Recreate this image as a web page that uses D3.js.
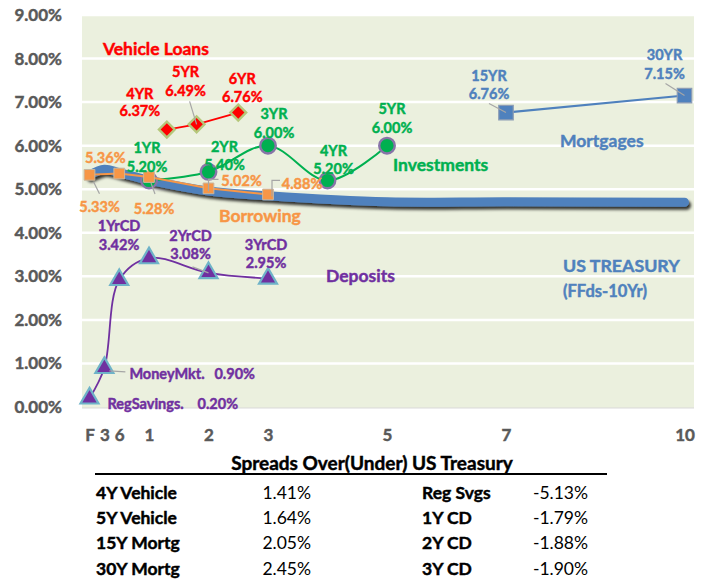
<!DOCTYPE html>
<html>
<head>
<meta charset="utf-8">
<script src="https://cdn.jsdelivr.net/npm/d3@7"></script>
<style>
  body { margin: 0; background: #fff; }
  svg { display: block; font-family: Lato, "Open Sans", sans-serif; }
  /* thicken bold text a touch, Calibri bold reads heavier than Lato */
  .heavy text, text.heavy { stroke: currentColor; stroke-width: 0.45px; paint-order: stroke; }
</style>
</head>
<body>
<svg id="chart" width="704" height="579"></svg>
<script>
// Yield curve snapshot: tenors are in years (F = Fed Funds, 3 and 6 = months)

const treasuryTenors = [0, 0.25, 0.5, 1, 2, 3, 5, 7, 10]
const treasuryRates = [5.33, 5.46, 5.38, 5.21, 4.96, 4.85, 4.71, 4.71, 4.70]

const vehicleTenors = [1.3, 1.8, 2.5]
const vehicleRates = [6.37, 6.49, 6.76]
const vehicleNames = ['4YR', '5YR', '6YR']

const investTenors = [1, 2, 3, 4, 5]
const investRates = [5.20, 5.40, 6.00, 5.20, 6.00]
const investNames = ['1YR', '2YR', '3YR', '4YR', '5YR']

const borrowTenors = [0, 0.5, 1, 2, 3]
const borrowRates = [5.33, 5.36, 5.28, 5.02, 4.88]

const mortgageTenors = [7, 10]
const mortgageRates = [6.76, 7.15]
const mortgageNames = ['15YR', '30YR']

const depositTenors = [0, 0.25, 0.5, 1, 2, 3]
const depositRates = [0.20, 0.90, 2.92, 3.42, 3.08, 2.95]
const depositNames = ['RegSavings.', 'MoneyMkt.', '', '1YrCD', '2YrCD', '3YrCD']

const xTickValues = [0, 0.25, 0.5, 1, 2, 3, 5, 7, 10]
const xTickLabels = ['F', '3', '6', '1', '2', '3', '5', '7', '10']
const yTickValues = [0, 1, 2, 3, 4, 5, 6, 7, 8, 9]

const spreadTitle = 'Spreads Over(Under) US Treasury'
const spreadLeftNames = ['4Y Vehicle', '5Y Vehicle', '15Y Mortg', '30Y Mortg']
const spreadLeftValues = [1.41, 1.64, 2.05, 2.45]
const spreadRightNames = ['Reg Svgs', '1Y CD', '2Y CD', '3Y CD']
const spreadRightValues = [-5.13, -1.79, -1.88, -1.90]

// Colours (Office palette)
const RED = '#ff0000', GREEN = '#00b050', ORANGE = '#f79646'
const BLUE = '#4f81bd', PURPLE = '#7030a0', GREY = '#595959'

// Label placement, offsets from each point [dx, dy of first line, dy of second line]
const vehicleLabelPos = [[-27, -36, -19], [-11, -53, -34], [4, -34, -16]]
const investLabelPos = [[-2, -33, -14], [16, -25, -7], [6, -32, -13], [6, -30, -12], [5, -37, -18]]
const borrowLabelPos = [[10, 32], [-14, -16], [5, 31], [33, -8], [34, -11]]
const mortgageLabelPos = [[-17, -37, -19], [-20, -41, -22]]
const depositLabelPos = [[18, 5], [25, 6], null, [-30, -33, -14], [-18, -37, -19], [-2, -34, -16]]

const LABEL_SIZE = 14.5, TITLE_SIZE = 17.5

const svg = d3.select('#chart')
const plot = { left: 82, right: 694, top: 16, bottom: 408 }

const x = d3.scaleLinear().domain([0, 10]).range([89.5, 684.5])
const y = d3.scaleLinear().domain([0, 9]).range([407, 15])
const pct = v => v.toFixed(2) + '%'

// Soft drop shadow for the thick treasury line
const defs = svg.append('defs')
defs.append('filter').attr('id', 'shadow')
  .attr('x', '-5%').attr('y', '-50%').attr('width', '110%').attr('height', '200%')
  .append('feDropShadow')
  .attr('dx', 2).attr('dy', 3).attr('stdDeviation', 1.6)
  .attr('flood-color', '#000').attr('flood-opacity', 0.8)

// Plot background and gridlines
svg.append('rect')
  .attr('x', plot.left).attr('y', plot.top)
  .attr('width', plot.right - plot.left).attr('height', plot.bottom - plot.top)
  .attr('fill', '#ebf0de')

svg.append('g').selectAll('line')
  .data(yTickValues.filter(d => d > 0))
  .join('line')
  .attr('x1', plot.left).attr('x2', plot.right)
  .attr('y1', d => y(d)).attr('y2', d => y(d))
  .attr('stroke', '#fff').attr('stroke-width', 2.5)

svg.append('line')
  .attr('x1', plot.left).attr('x2', plot.right)
  .attr('y1', plot.bottom).attr('y2', plot.bottom)
  .attr('stroke', '#d9d9d9').attr('stroke-width', 1)

// Axes
const yAxis = svg.append('g')
  .attr('transform', `translate(${plot.left - 16},0)`)
  .call(d3.axisLeft(y).tickValues(yTickValues).tickFormat(pct).tickSize(0).tickPadding(4))
const xAxis = svg.append('g')
  .attr('transform', `translate(0,${plot.bottom + 13})`)
  .call(d3.axisBottom(x).tickValues(xTickValues).tickFormat((d, i) => xTickLabels[i]).tickSize(0).tickPadding(8))

;[yAxis, xAxis].forEach(ax => {
  ax.select('.domain').remove()
  ax.classed('heavy', true).attr('color', GREY)
  ax.selectAll('text')
    .attr('fill', GREY).attr('font-size', 17).attr('font-weight', 'bold')
    .attr('font-family', 'Lato, sans-serif')
})

// Helpers --------------------------------------------------------------

const makeLine = (tenors, rates, curve) => d3.line()
  .x(i => x(tenors[i])).y(i => y(rates[i]))
  .curve(curve || d3.curveLinear)(d3.range(tenors.length))

const drawSeries = (tenors, rates, color, width, curve) =>
  svg.append('path')
    .attr('d', makeLine(tenors, rates, curve))
    .attr('fill', 'none').attr('stroke', color).attr('stroke-width', width)

const drawMarkers = (tenors, rates, type, size, fill, stroke, strokeWidth, rotate = 0) =>
  svg.append('g').selectAll('path')
    .data(d3.range(tenors.length))
    .join('path')
    .attr('d', d3.symbol().type(type).size(size))
    .attr('transform', i => `translate(${x(tenors[i])},${y(rates[i])}) rotate(${rotate})`)
    .attr('fill', fill).attr('stroke', stroke).attr('stroke-width', strokeWidth)

// Two-line labels (name over value) next to each point
const drawPointLabels = (tenors, rates, names, positions, color, size = LABEL_SIZE) => {
  const g = svg.append('g').attr('class', 'heavy').style('color', color)
    .attr('fill', color).attr('font-size', size).attr('font-weight', 'bold')
    .attr('text-anchor', 'middle').attr('dominant-baseline', 'central')
  tenors.forEach((t, i) => {
    const p = positions[i]
    if (!p) return
    const px = x(t) + p[0]
    if (p.length === 3) {
      g.append('text').attr('x', px).attr('y', y(rates[i]) + p[1]).text(names[i])
      g.append('text').attr('x', px).attr('y', y(rates[i]) + p[2]).text(pct(rates[i]))
    } else {
      g.append('text').attr('x', px).attr('y', y(rates[i]) + p[1]).text(pct(rates[i]))
    }
  })
}

const seriesTitle = (text, px, py, color, size = TITLE_SIZE) =>
  svg.append('text').attr('class', 'heavy').style('color', color)
    .attr('x', px).attr('y', py).attr('dominant-baseline', 'central')
    .attr('fill', color).attr('font-size', size).attr('font-weight', 'bold')
    .text(text)

// Grey leader lines, given as offsets from a point
const leader = (t, r, pts) =>
  svg.append('path')
    .attr('d', d3.line()(pts.map(p => [x(t) + p[0], y(r) + p[1]])))
    .attr('fill', 'none').attr('stroke', '#a6a6a6').attr('stroke-width', 1.2)

// US Treasury curve -----------------------------------------------------
svg.append('path')
  .attr('d', makeLine(treasuryTenors, treasuryRates, d3.curveCatmullRom.alpha(0.5)))
  .attr('fill', 'none').attr('stroke', BLUE).attr('stroke-width', 9)
  .attr('stroke-linecap', 'round').attr('filter', 'url(#shadow)')

// Investments
drawSeries(investTenors, investRates, GREEN, 2, d3.curveCatmullRom.alpha(0.5))
drawMarkers(investTenors, investRates, d3.symbolCircle, 190, GREEN, '#8874a8', 2.4)

// Borrowing
drawSeries(borrowTenors, borrowRates, ORANGE, 2)
drawMarkers(borrowTenors, borrowRates, d3.symbolSquare, 115, ORANGE, '#c9b8a0', 1)

// Vehicle loans
drawSeries(vehicleTenors, vehicleRates, RED, 1.8)
drawMarkers(vehicleTenors, vehicleRates, d3.symbolSquare, 125, RED, '#b5c77a', 2.4, 45)

// Mortgages
drawSeries(mortgageTenors, mortgageRates, BLUE, 2)
drawMarkers(mortgageTenors, mortgageRates, d3.symbolSquare, 210, BLUE, '#8c9cb4', 1.2)

// Deposits
drawSeries(depositTenors, depositRates, PURPLE, 1.8, d3.curveCatmullRom.alpha(0.5))
drawMarkers(depositTenors, depositRates, d3.symbolTriangle, 140, PURPLE, '#6fb3c8', 2.2)

// Leader lines
leader(borrowTenors[0], borrowRates[0], [[4, 7], [10, 19]])
leader(borrowTenors[2], borrowRates[2], [[2, 6], [6, 17]])
leader(borrowTenors[3], borrowRates[3], [[0, 3], [0, -9], [10, -9]])
leader(borrowTenors[4], borrowRates[4], [[4, 2], [4, -14], [12, -14]])
leader(vehicleTenors[1], vehicleRates[1], [[0, 0], [-7, -23]])
leader(mortgageTenors[0], mortgageRates[0], [[0, 0], [-17, -9]])
leader(mortgageTenors[1], mortgageRates[1], [[0, 0], [-19, -12]])
leader(depositTenors[1], depositRates[1], [[5, 3], [21, 4]])
leader(depositTenors[4], depositRates[4], [[0, 0], [-16, -6]])

// Point labels
drawPointLabels(vehicleTenors, vehicleRates, vehicleNames, vehicleLabelPos, RED)
drawPointLabels(investTenors, investRates, investNames, investLabelPos, GREEN)
drawPointLabels(borrowTenors, borrowRates, [], borrowLabelPos, ORANGE)
drawPointLabels(mortgageTenors, mortgageRates, mortgageNames, mortgageLabelPos, BLUE)
drawPointLabels(depositTenors.slice(2), depositRates.slice(2), depositNames.slice(2), depositLabelPos.slice(2), PURPLE)

// The two short-end deposit labels read "Name.   rate" on one line
;[0, 1].forEach(i => {
  const p = depositLabelPos[i]
  const g = svg.append('g').attr('class', 'heavy').style('color', PURPLE)
    .attr('fill', PURPLE).attr('font-size', LABEL_SIZE).attr('font-weight', 'bold')
    .attr('dominant-baseline', 'central')
  g.append('text').attr('x', x(depositTenors[i]) + p[0]).attr('y', y(depositRates[i]) + p[1]).text(depositNames[i])
  g.append('text').attr('x', x(depositTenors[i]) + p[0] + (i === 0 ? 90 : 85)).attr('y', y(depositRates[i]) + p[1])
    .text(pct(depositRates[i]))
})

// Series titles
seriesTitle('Vehicle Loans', 103, 48, RED)
seriesTitle('Investments', 393, 164, GREEN)
seriesTitle('Borrowing', 219, 215, ORANGE)
seriesTitle('Mortgages', 560, 140, BLUE)
seriesTitle('Deposits', 326, 275, PURPLE)
seriesTitle('US TREASURY', 563, 265, BLUE, 17.8)
seriesTitle('(FFds-10Yr)', 563, 291, BLUE, 16.5)

// Spread table under the chart ----------------------------------------
const table = svg.append('g').attr('font-size', 17.5).attr('fill', '#000').style('color', '#000')
table.append('text').attr('class', 'heavy')
  .attr('x', 372).attr('y', 470).attr('text-anchor', 'middle').attr('font-weight', 'bold')
  .attr('font-size', 19)
  .text(spreadTitle)
table.append('line')
  .attr('x1', 95).attr('x2', 607).attr('y1', 474).attr('y2', 474)
  .attr('stroke', '#000').attr('stroke-width', 2)

const rowY = d3.scalePoint().domain(d3.range(4)).range([492, 568])

spreadLeftNames.forEach((name, i) => {
  table.append('text').attr('class', 'heavy').attr('x', 96).attr('y', rowY(i)).attr('dominant-baseline', 'central')
    .attr('font-weight', 'bold').text(name)
  table.append('text').attr('x', 311).attr('y', rowY(i)).attr('dominant-baseline', 'central')
    .attr('text-anchor', 'end').text(pct(spreadLeftValues[i]))
})
spreadRightNames.forEach((name, i) => {
  table.append('text').attr('class', 'heavy').attr('x', 422).attr('y', rowY(i)).attr('dominant-baseline', 'central')
    .attr('font-weight', 'bold').text(name)
  table.append('text').attr('x', 588).attr('y', rowY(i)).attr('dominant-baseline', 'central')
    .attr('text-anchor', 'end').text(pct(spreadRightValues[i]))
})
</script>
</body>
</html>
